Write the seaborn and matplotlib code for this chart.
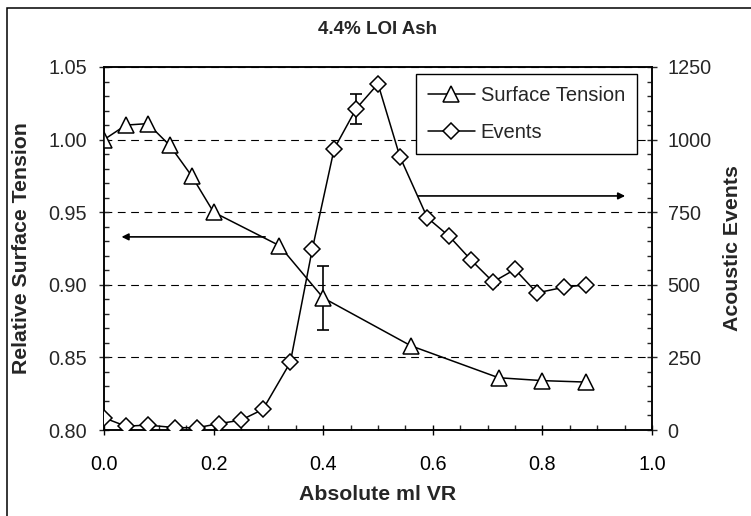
import matplotlib
matplotlib.use("Agg")
import matplotlib.pyplot as plt
from matplotlib.patches import Rectangle
from matplotlib.ticker import MultipleLocator, FormatStrFormatter
import seaborn as sns
import pandas as pd

# ---- data ----
st_x = [0.00, 0.04, 0.08, 0.12, 0.16, 0.20, 0.32, 0.40, 0.56, 0.72, 0.80, 0.88]
st_y = [1.000, 1.010, 1.011, 0.996, 0.975, 0.950, 0.927, 0.891, 0.858, 0.836, 0.834, 0.833]
st_err_x = [0.40]
st_err_y = [0.891]
st_err = [0.022]

ev_x = [0.00, 0.04, 0.08, 0.13, 0.17, 0.21, 0.25, 0.29, 0.34, 0.38, 0.42,
        0.46, 0.50, 0.54, 0.59, 0.63, 0.67, 0.71, 0.75, 0.79, 0.84, 0.88]
ev_y = [42, 13, 17, 8, 8, 22, 34, 71, 233, 622, 968,
        1106, 1192, 941, 731, 667, 585, 510, 553, 472, 492, 500]
ev_err_x = [0.46]
ev_err_y = [1106]
ev_err = [51]

title = "4.4% LOI Ash"
xlabel = "Absolute ml VR"
ylabel_left = "Relative Surface Tension"
ylabel_right = "Acoustic Events"
series_names = ["Surface Tension", "Events"]

st_df = pd.DataFrame({"x": st_x, "y": st_y})
ev_df = pd.DataFrame({"x": ev_x, "y": ev_y})

# ---- style ----
sns.set_style("ticks")
plt.rcParams["font.family"] = ["Liberation Sans", "DejaVu Sans"]

W, H = 751, 516
fig = plt.figure(figsize=(W / 100, H / 100), dpi=100)
L, R, T, B = 104, 652, 67, 430
ax = fig.add_axes([L / W, 1 - B / H, (R - L) / W, (B - T) / H])
ax2 = ax.twinx()

lw = 1.1
sns.lineplot(data=st_df, x="x", y="y", ax=ax, color="black", lw=lw,
             marker="^", markersize=11.5, markerfacecolor="white",
             markeredgecolor="black", markeredgewidth=1.1, zorder=3,
             label=series_names[0], legend=False, sort=False)
ax.errorbar(st_err_x, st_err_y, yerr=st_err, fmt="none", ecolor="black",
            elinewidth=1.2, capsize=4.5, capthick=1.2, zorder=2)

sns.lineplot(data=ev_df, x="x", y="y", ax=ax2, color="black", lw=lw,
             marker="D", markersize=8, markerfacecolor="white",
             markeredgecolor="black", markeredgewidth=1.1, zorder=3,
             label=series_names[1], legend=False, sort=False)
ax2.errorbar(ev_err_x, ev_err_y, yerr=ev_err, fmt="none", ecolor="black",
             elinewidth=1.2, capsize=4.5, capthick=1.2, zorder=2)

# axes limits/ticks
ax.set_xlim(0, 1.0)
ax.set_ylim(0.80, 1.05)
ax2.set_ylim(0, 1250)
ax.xaxis.set_major_locator(MultipleLocator(0.2))
ax.xaxis.set_minor_locator(MultipleLocator(0.05))
ax.xaxis.set_major_formatter(FormatStrFormatter("%.1f"))
ax.yaxis.set_major_locator(MultipleLocator(0.05))
ax.yaxis.set_minor_locator(MultipleLocator(0.01))
ax.yaxis.set_major_formatter(FormatStrFormatter("%.2f"))
ax2.yaxis.set_major_locator(MultipleLocator(250))
ax2.yaxis.set_minor_locator(MultipleLocator(50))

tick_fs = 14.3
ax.tick_params(axis="x", which="major", direction="inout", length=7.6, width=1.0,
               labelsize=tick_fs, pad=14.5, colors="black")
ax.tick_params(axis="x", which="minor", direction="in", length=3.8, width=1.0)
ax.tick_params(axis="y", which="major", direction="inout", length=7.6, width=1.0,
               labelsize=tick_fs, pad=8.5)
ax.tick_params(axis="y", which="minor", direction="in", length=3.8, width=1.0)
ax2.tick_params(axis="y", which="major", direction="inout", length=7.6, width=1.0,
                labelsize=tick_fs, pad=7.5)
ax2.tick_params(axis="y", which="minor", direction="in", length=3.8, width=1.0)
ax.tick_params(top=False, which="both")
ax2.tick_params(top=False, which="both")

for a in (ax, ax2):
    for s in a.spines.values():
        s.set_visible(True)
        s.set_linewidth(1.1)
        s.set_color("black")

ax.grid(axis="y", which="major", color="black", lw=0.8, linestyle=(0, (7, 5)))
ax.grid(axis="x", visible=False)
ax.set_axisbelow(True)

lab_fs = 15.3
ax.set_xlabel(xlabel, fontsize=lab_fs, fontweight="bold")
ax.xaxis.set_label_coords(0.5, (B - 495) / (B - T))
ax.xaxis.label.set_va("center")
ax.set_ylabel(ylabel_left, fontsize=lab_fs, fontweight="bold")
ax.yaxis.set_label_coords((22 - L) / (R - L), 0.5)
ax.yaxis.label.set_va("center")
ax2.set_ylabel(ylabel_right, fontsize=lab_fs, fontweight="bold", rotation=90)
ax2.yaxis.set_label_coords((733 - L) / (R - L), 0.5)
ax2.yaxis.label.set_va("center")

fig.text((L + R) / 2 / W, 1 - 30 / H, title, fontsize=13.5, fontweight="bold",
         ha="center", va="center")

# arrows
ax.annotate("", xy=(0.032, 0.933), xytext=(0.294, 0.933),
            arrowprops=dict(arrowstyle="-|>", color="black", lw=1.2,
                            mutation_scale=10, shrinkA=0, shrinkB=0))
ax2.annotate("", xy=(0.951, 806), xytext=(0.574, 806),
             arrowprops=dict(arrowstyle="-|>", color="black", lw=1.2,
                             mutation_scale=10, shrinkA=0, shrinkB=0))

# legend
h1 = ax.get_lines()[0]
h2 = ax2.get_lines()[0]
leg = ax2.legend([h1, h2], series_names, loc="upper right",
                 bbox_to_anchor=((637 - L) / (R - L), (B - 74) / (B - T)),
                 borderaxespad=0, fontsize=14.5, frameon=True, fancybox=False,
                 edgecolor="black", framealpha=1, handlelength=2.3,
                 handletextpad=0.3, labelspacing=0.9, borderpad=0.6,
                 numpoints=1)
leg.get_frame().set_linewidth(1.0)

# figure border
fig.patches.append(Rectangle((7 / W, -0.05), 1.2, 1 - 8 / H + 0.05,
                             transform=fig.transFigure, fill=False,
                             edgecolor="black", lw=1.1))

fig.savefig("out.png", dpi=100)
